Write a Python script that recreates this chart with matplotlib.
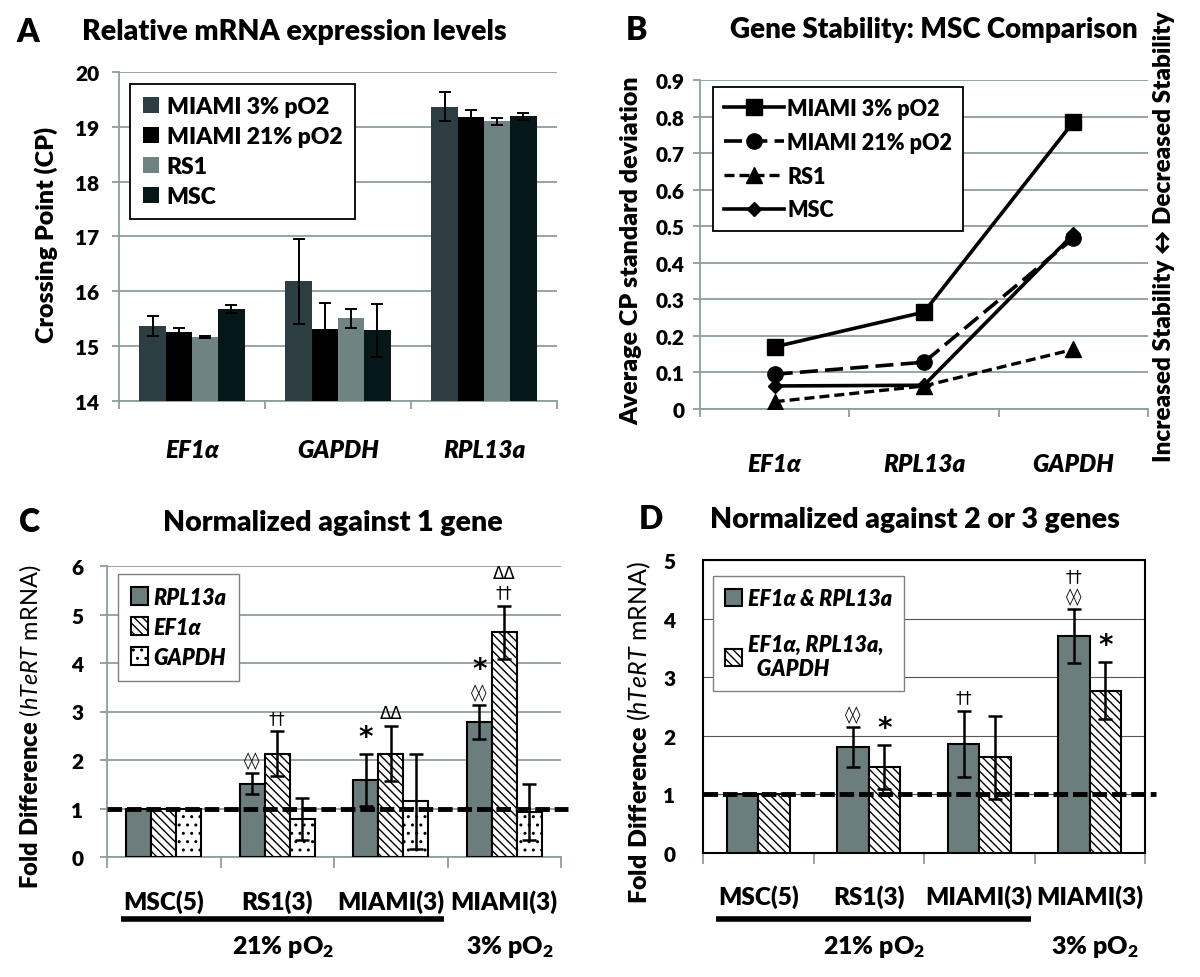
import matplotlib
matplotlib.use('Agg')
import matplotlib.pyplot as plt
import matplotlib.transforms as mtransforms
import numpy as np

plt.rcParams['font.family'] = ['Lato', 'DejaVu Sans']
plt.rcParams['mathtext.fontset'] = 'custom'
plt.rcParams['mathtext.rm'] = 'Lato'
plt.rcParams['mathtext.it'] = 'Lato:italic'
plt.rcParams['mathtext.bf'] = 'Lato:heavy'
plt.rcParams['hatch.linewidth'] = 1.0

# ---------------- data ----------------
# Panel A: crossing points
genes_a = ['EF1α', 'GAPDH', 'RPL13a']
cells_a = ['MIAMI 3% pO2', 'MIAMI 21% pO2', 'RS1', 'MSC']
cp_miami3 = [15.37, 16.18, 19.37]
cp_miami3_err = [0.18, 0.78, 0.27]
cp_miami21 = [15.26, 15.32, 19.18]
cp_miami21_err = [0.08, 0.46, 0.12]
cp_rs1 = [15.16, 15.51, 19.10]
cp_rs1_err = [0.02, 0.17, 0.07]
cp_msc = [15.68, 15.29, 19.19]
cp_msc_err = [0.07, 0.48, 0.07]

# Panel B: average CP standard deviation
genes_b = ['EF1α', 'RPL13a', 'GAPDH']
sd_miami3 = [0.170, 0.265, 0.785]
sd_miami21 = [0.095, 0.128, 0.467]
sd_rs1 = [0.020, 0.063, 0.163]
sd_msc = [0.063, 0.065, 0.478]

# Panels C/D: fold difference of hTeRT mRNA
groups_cd = ['MSC(5)', 'RS1(3)', 'MIAMI(3)', 'MIAMI(3)']
po2_labels = ['21% pO$_\\mathbf{2}$', '3% pO$_\\mathbf{2}$']
series_c = ['RPL13a', 'EF1α', 'GAPDH']
c_rpl13a = [1.00, 1.51, 1.59, 2.78]
c_rpl13a_err = [0.00, 0.22, 0.53, 0.35]
c_ef1a = [1.00, 2.13, 2.13, 4.63]
c_ef1a_err = [0.00, 0.46, 0.57, 0.55]
c_gapdh = [1.00, 0.79, 1.15, 0.93]
c_gapdh_err = [0.00, 0.43, 0.98, 0.58]
sig_c = {(1, 0): ['◊◊'], (1, 1): ['††'], (2, 0): ['*'], (2, 1): ['ΔΔ'],
         (3, 0): ['◊◊', '*'], (3, 1): ['††', 'ΔΔ']}

series_d = ['EF1α & RPL13a', 'EF1α, RPL13a,\n  GAPDH']
d_two = [1.00, 1.81, 1.86, 3.70]
d_two_err = [0.00, 0.34, 0.57, 0.46]
d_three = [1.00, 1.47, 1.63, 2.77]
d_three_err = [0.00, 0.37, 0.70, 0.49]
sig_d = {(1, 0): ['◊◊'], (1, 1): ['*'], (2, 0): ['††'],
         (3, 0): ['◊◊', '††'], (3, 1): ['*']}

# ---------------- figure ----------------
W, H = 1200, 978
fig = plt.figure(figsize=(12, 9.78), dpi=100)
BW = 'heavy'


def ax_px(x0, y0, x1, y1):
    return fig.add_axes([x0 / W, 1 - y1 / H, (x1 - x0) / W, (y1 - y0) / H])


def fx(x):
    return x / W


def fy(y):
    return 1 - y / H


GRID = '#8d9d9d'


def style_open_axes(ax, ncat, xlabels, xlabel_size, xpad, ypad):
    for s in ['top', 'right']:
        ax.spines[s].set_visible(False)
    for s in ['left', 'bottom']:
        ax.spines[s].set_color(GRID)
        ax.spines[s].set_linewidth(1.3)
    ax.yaxis.grid(True, color=GRID, lw=1.3)
    ax.set_axisbelow(True)
    ax.set_xlim(-0.5, ncat - 0.5)
    ax.set_xticks(np.arange(ncat + 1) - 0.5)
    ax.set_xticklabels([''] * (ncat + 1))
    ax.tick_params(axis='x', which='major', length=6, width=1.3, color=GRID)
    if xlabels is not None:
        ax.set_xticks(np.arange(ncat), minor=True)
        ax.set_xticklabels(xlabels, minor=True, fontsize=xlabel_size,
                           fontstyle='italic', fontweight=BW)
        ax.tick_params(axis='x', which='minor', length=0, pad=xpad)
    ax.tick_params(axis='y', length=5, width=1.3, color=GRID,
                   labelsize=15, pad=ypad)
    for lbl in ax.get_yticklabels():
        lbl.set_fontweight(BW)


# ================= Panel A =================
axA = ax_px(119, 73, 557, 402)
xa = np.arange(len(genes_a))
series_a = [(cp_miami3, cp_miami3_err), (cp_miami21, cp_miami21_err),
            (cp_rs1, cp_rs1_err), (cp_msc, cp_msc_err)]
colors_a = ['#2c3e41', '#000000', '#6f8383', '#06171a']
bw = 0.18
for i, ((m, e), col, lab) in enumerate(zip(series_a, colors_a, cells_a)):
    off = (i - 1.5) * bw
    axA.bar(xa + off, np.array(m) - 14, bw, bottom=14, color=col, label=lab, zorder=3)
    axA.errorbar(xa + off, m, yerr=e, fmt='none', ecolor='black',
                 elinewidth=1.4, capsize=4, capthick=1.4, zorder=4)
axA.set_ylim(14, 20)
axA.set_yticks(np.arange(14, 21, 1))
style_open_axes(axA, 3, genes_a, 17.5, 27, 9)
legA = axA.legend(loc='upper left', bbox_to_anchor=(0.025, 0.964), borderaxespad=0,
                  frameon=True, fancybox=False, framealpha=1,
                  handlelength=0.7, handleheight=0.7, handletextpad=0.35,
                  labelspacing=0.38, borderpad=0.55,
                  prop={'weight': BW, 'size': 16.5})
legA.get_frame().set_edgecolor('black')
legA.get_frame().set_linewidth(1.3)
fig.text(fx(294), fy(32), 'Relative mRNA expression levels', ha='center', va='center',
         fontsize=20.5, fontweight=BW)
fig.text(fx(28), fy(32), 'A', ha='center', va='center', fontsize=23, fontweight=BW)
fig.text(fx(46), fy(235), 'Crossing Point (CP)', rotation=90, ha='center', va='center',
         fontsize=18, fontweight=BW)

# ================= Panel B =================
axB = ax_px(700, 81, 1148, 410)
xb = np.arange(len(genes_b))
axB.plot(xb, sd_miami3, color='black', lw=2.6, marker='s', ms=11,
         label='MIAMI 3% pO2', zorder=4)
axB.plot(xb, sd_miami21, color='black', lw=2.6, ls=(0, (5, 2)), marker='o', ms=11,
         label='MIAMI 21% pO2', zorder=4)
axB.plot(xb, sd_rs1, color='black', lw=2.4, ls=(0, (3, 1.5)), marker='^', ms=11,
         label='RS1', zorder=4)
axB.plot(xb, sd_msc, color='black', lw=2.6, marker='D', ms=7,
         label='MSC', zorder=4)
axB.set_ylim(0, 0.9)
yt = np.round(np.arange(0, 0.91, 0.1), 1)
axB.set_yticks(yt)
axB.set_yticklabels(['0'] + ['%.1f' % v for v in yt[1:]])
style_open_axes(axB, 3, genes_b, 17.5, 31, 6)
legB = axB.legend(loc='upper left', bbox_to_anchor=(0.029, 0.979), borderaxespad=0,
                  frameon=True, fancybox=False, framealpha=1,
                  handlelength=2.8, handletextpad=0.15, labelspacing=0.6,
                  borderpad=0.5, prop={'weight': BW, 'size': 15.5})
legB.get_frame().set_edgecolor('black')
legB.get_frame().set_linewidth(1.3)
fig.text(fx(934), fy(30), 'Gene Stability: MSC Comparison', ha='center', va='center',
         fontsize=20, fontweight=BW)
fig.text(fx(636), fy(30), 'B', ha='center', va='center', fontsize=23, fontweight=BW)
fig.text(fx(631), fy(251), 'Average CP standard deviation', rotation=90,
         ha='center', va='center', fontsize=18, fontweight=BW)
fig.text(fx(1164), fy(237), 'Increased Stability ↔ Decreased Stability', rotation=90,
         ha='center', va='center', fontsize=17.5, fontweight=BW)


# ================= helpers for C / D =================
def add_sig(ax, x, top, marks):
    off = 3
    for mk in marks:
        if mk == '*':
            ax.annotate(mk, (x, top), xytext=(0, off - 1), textcoords='offset points',
                        ha='center', va='bottom', fontsize=20, fontweight='bold',
                        family=['DejaVu Sans'])
            off += 14
        else:
            ax.annotate(mk, (x, top), xytext=(0, off), textcoords='offset points',
                        ha='center', va='bottom', fontsize=12,
                        family=['DejaVu Sans'])
            off += 14


def group_labels(ax, ylab, yline, ypo2):
    tr = mtransforms.blended_transform_factory(ax.transData, ax.transAxes)
    for i, g in enumerate(groups_cd):
        ax.text(i, ylab, g, transform=tr, ha='center', va='center', fontsize=17.5,
                fontweight=BW, clip_on=False)
    ax.plot([-0.38, 2.47], [yline, yline], transform=tr, color='black', lw=4,
            solid_capstyle='butt', clip_on=False)
    ax.text(1.05, ypo2, po2_labels[0], transform=tr, ha='center', va='center',
            fontsize=18, fontweight=BW, clip_on=False)
    ax.text(3.05, ypo2, po2_labels[1], transform=tr, ha='center', va='center',
            fontsize=18, fontweight=BW, clip_on=False)


SOLID = '#6b7d7d'
HATCH = '\\\\\\\\'
YLAB = r'$\mathbf{Fold\ Difference}\ (\mathit{hTeRT}\ \mathrm{mRNA})$'

# ================= Panel C =================
axC = ax_px(107, 567, 561, 858)
xc = np.arange(len(groups_cd))
bwc = 0.22
c_series = [(c_rpl13a, c_rpl13a_err, SOLID, None),
            (c_ef1a, c_ef1a_err, 'white', HATCH),
            (c_gapdh, c_gapdh_err, 'white', '..')]
for j, (m, e, fc, ht) in enumerate(c_series):
    xs = xc + (j - 1) * bwc
    axC.bar(xs, m, bwc, color=fc, edgecolor='black', lw=1.5, hatch=ht, zorder=3,
            label=series_c[j])
    m = np.array(m)
    e = np.array(e)
    mask = e > 0
    axC.errorbar(xs[mask], m[mask], yerr=e[mask], fmt='none', ecolor='black',
                 elinewidth=1.8, capsize=5, capthick=1.8, zorder=6)
    for i in range(len(xc)):
        if (i, j) in sig_c:
            add_sig(axC, xs[i], m[i] + e[i], sig_c[(i, j)])
axC.plot([-0.5, 3.56], [1, 1], color='black', lw=3.5, ls=(0, (3, 1)),
         zorder=5, clip_on=False)
axC.set_ylim(0, 6)
axC.set_yticks(np.arange(0, 7, 1))
style_open_axes(axC, 4, None, 15, 10, 12)
axC.tick_params(axis='x', which='major', length=8)
legC = axC.legend(loc='upper left', bbox_to_anchor=(0.024, 0.973), borderaxespad=0,
                  frameon=True, fancybox=False, framealpha=1,
                  handlelength=0.8, handleheight=0.9, handletextpad=0.25,
                  labelspacing=0.42, borderpad=0.6,
                  prop={'weight': BW, 'style': 'italic', 'size': 15.5})
legC.get_frame().set_edgecolor('#808080')
legC.get_frame().set_linewidth(1.0)
group_labels(axC, -0.151, -0.213, -0.306)
fig.text(fx(333), fy(523), 'Normalized against 1 gene', ha='center', va='center',
         fontsize=20.5, fontweight=BW)
fig.text(fx(29), fy(523), 'C', ha='center', va='center', fontsize=23, fontweight=BW)
fig.text(fx(30), fy(727), YLAB, rotation=90, ha='center', va='center', fontsize=17)

# ================= Panel D =================
axD = ax_px(703, 561, 1145, 854)
bwd = 0.285
d_series = [(d_two, d_two_err, SOLID, None), (d_three, d_three_err, 'white', HATCH)]
for j, (m, e, fc, ht) in enumerate(d_series):
    xs = xc + (j - 0.5) * bwd
    axD.bar(xs, m, bwd, color=fc, edgecolor='black', lw=1.5, hatch=ht, zorder=3,
            label=series_d[j])
    m = np.array(m)
    e = np.array(e)
    mask = e > 0
    axD.errorbar(xs[mask], m[mask], yerr=e[mask], fmt='none', ecolor='black',
                 elinewidth=1.8, capsize=5, capthick=1.8, zorder=6)
    for i in range(len(xc)):
        if (i, j) in sig_d:
            add_sig(axD, xs[i], m[i] + e[i], sig_d[(i, j)])
axD.plot([-0.5, 3.6], [1, 1], color='black', lw=3.5, ls=(0, (3, 1)),
         zorder=5, clip_on=False)
axD.set_ylim(0, 5)
axD.set_xlim(-0.5, 3.5)
axD.set_yticks(np.arange(0, 6, 1))
for s in axD.spines.values():
    s.set_color('black')
    s.set_linewidth(1.5)
axD.yaxis.grid(True, color='#555555', lw=0.8)
axD.set_axisbelow(True)
axD.set_xticks(np.arange(5) - 0.5)
axD.set_xticklabels([''] * 5)
axD.tick_params(axis='x', length=8, width=1.3, color=GRID)
axD.tick_params(axis='y', length=0, labelsize=15, pad=20)
for lbl in axD.get_yticklabels():
    lbl.set_fontweight(BW)
legD = axD.legend(loc='upper left', bbox_to_anchor=(0.023, 0.945), borderaxespad=0,
                  frameon=True, fancybox=False, framealpha=1,
                  handlelength=0.8, handleheight=0.9, handletextpad=0.25,
                  labelspacing=1.15, borderpad=0.55,
                  prop={'weight': BW, 'style': 'italic', 'size': 15.5})
legD.get_frame().set_edgecolor('#808080')
legD.get_frame().set_linewidth(1.0)
group_labels(axD, -0.147, -0.225, -0.317)
fig.text(fx(915), fy(520), 'Normalized against 2 or 3 genes', ha='center', va='center',
         fontsize=20.5, fontweight=BW)
fig.text(fx(651), fy(520), 'D', ha='center', va='center', fontsize=23, fontweight=BW)
fig.text(fx(639), fy(732), YLAB, rotation=90, ha='center', va='center', fontsize=18)

fig.savefig('out.png', dpi=100)
